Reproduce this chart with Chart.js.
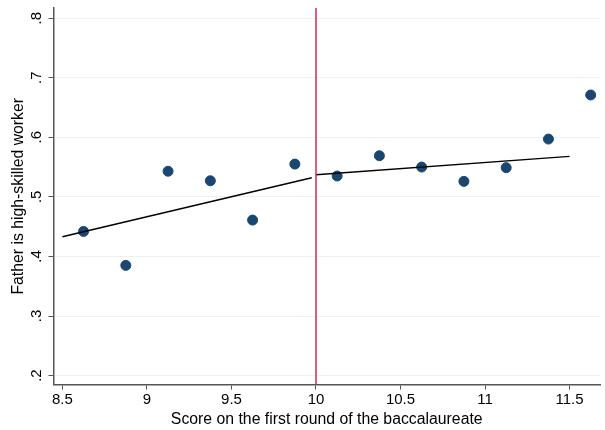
<!DOCTYPE html>
<html>
<head>
<meta charset="utf-8">
<script src="https://cdn.jsdelivr.net/npm/chart.js@4/dist/chart.umd.min.js"></script>
<style>
  html, body { margin: 0; padding: 0; background: #fff; }
  #wrap { width: 605px; height: 430px; }
</style>
</head>
<body>
<div id="wrap"><canvas id="grafico"></canvas></div>
<script>
// bin centres and mean share per bin
const binX = [8.625, 8.875, 9.125, 9.375, 9.625, 9.875, 10.125, 10.375, 10.625, 10.875, 11.125, 11.375, 11.625];
const binY = [0.442, 0.385, 0.543, 0.527, 0.461, 0.555, 0.535, 0.569, 0.550, 0.526, 0.549, 0.597, 0.671];

// linear fits on each side of the cutoff
const fitLeftX = [8.5, 9.975];
const fitLeftY = [0.433, 0.532];
const fitRightX = [10.0, 11.5];
const fitRightY = [0.537, 0.568];

const cutoff = 10;
const xTicks = [8.5, 9, 9.5, 10, 10.5, 11, 11.5];
const yTicks = [0.2, 0.3, 0.4, 0.5, 0.6, 0.7, 0.8];
const xMin = 8.447, xMax = 11.68;
const yMin = 0.185, yMax = 0.817;

const pares = (xs, ys) => xs.map((x, i) => ({ x: x, y: ys[i] }));
const familia = '"Liberation Sans", Arial, sans-serif';
const fonteTickX = { family: familia, size: 15, lineHeight: 1 };
// rotated y labels: small line height keeps the axis from reserving extra room
const fonteTickY = { family: familia, size: 15, lineHeight: 0.2 };
const fonteTitulo = { family: familia, size: 15.8, lineHeight: 1.2 };
const escuro = '#555555';

new Chart(document.getElementById('grafico'), {
    type: 'scatter',
    data: {
        datasets: [
            {
                data: pares([cutoff, cutoff], [yMin, yMax]),
                showLine: true,
                borderColor: '#dc2453',
                borderWidth: 1.5,
                pointRadius: 0
            },
            {
                data: pares(fitLeftX, fitLeftY),
                showLine: true,
                borderColor: '#000',
                borderWidth: 1.4,
                pointRadius: 0
            },
            {
                data: pares(fitRightX, fitRightY),
                showLine: true,
                borderColor: '#000',
                borderWidth: 1.4,
                pointRadius: 0
            },
            {
                data: pares(binX, binY),
                backgroundColor: '#1a476f',
                borderColor: '#1a476f',
                pointRadius: 5,
                pointHoverRadius: 5
            }
        ]
    },
    options: {
        responsive: true,
        maintainAspectRatio: false,
        animation: false,
        layout: { autoPadding: false, padding: { top: 8, right: 5, left: 7.5, bottom: 0 } },
        plugins: {
            legend: { display: false },
            tooltip: { enabled: false }
        },
        scales: {
            x: {
                type: 'linear',
                min: xMin,
                max: xMax,
                afterBuildTicks: s => { s.ticks = xTicks.map(v => ({ value: v })); },
                grid: { drawOnChartArea: false, tickColor: escuro, tickLength: 5, tickWidth: 1 },
                border: { color: escuro, width: 1.5 },
                ticks: {
                    color: '#000',
                    font: fonteTickX,
                    padding: 3,
                    maxRotation: 0,
                    callback: v => String(v)
                },
                title: {
                    display: true,
                    text: 'Score on the first round of the baccalaureate',
                    color: '#000',
                    font: fonteTitulo,
                    padding: { top: 0, bottom: 0.5 }
                }
            },
            y: {
                min: yMin,
                max: yMax,
                afterBuildTicks: s => { s.ticks = yTicks.map(v => ({ value: v })); },
                grid: { color: '#eaf2f3', tickColor: escuro, tickLength: 5, tickWidth: 1 },
                border: { color: escuro, width: 1.5 },
                ticks: {
                    color: '#000',
                    font: fonteTickY,
                    padding: 5,
                    minRotation: 90,
                    maxRotation: 90,
                    crossAlign: 'center',
                    callback: v => v.toFixed(1).replace(/^0/, '')
                },
                title: {
                    display: true,
                    text: 'Father is high-skilled worker',
                    color: '#000',
                    font: fonteTitulo,
                    padding: { top: 1.5, bottom: 7.5 }
                }
            }
        }
    }
});
</script>
</body>
</html>
